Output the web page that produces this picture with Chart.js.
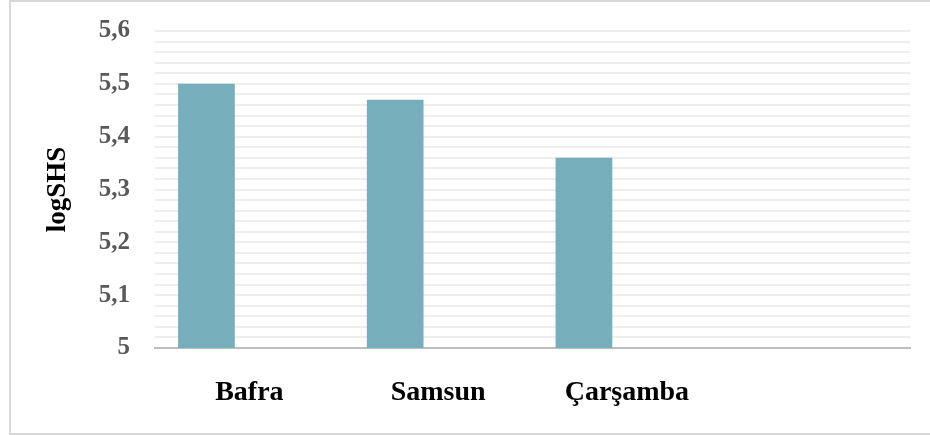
<!DOCTYPE html>
<html>
<head>
<meta charset="utf-8">
<script src="https://cdn.jsdelivr.net/npm/chart.js@4/dist/chart.umd.min.js"></script>
<style>
  html, body { margin: 0; padding: 0; background: #fff; overflow: hidden; }
  #frame {
    position: absolute; left: 9px; top: 0px; width: 940px; height: 431px;
    border: 2px solid #d9d9d9;
  }
  #wrap { position: absolute; left: 0; top: 0; width: 930px; height: 435px; }
</style>
</head>
<body>
<div id="frame"></div>
<div id="wrap"><canvas id="chart" width="930" height="435"></canvas></div>
<script>
// data
const districts = ['Bafra', 'Samsun', 'Çarşamba', '']
const logSHS = [5.50, 5.47, 5.36, null]
const emptySeries = [null, null, null, null]
const yTickLabels = { '5': '5', '5.1': '5,1', '5.2': '5,2', '5.3': '5,3', '5.4': '5,4', '5.5': '5,5', '5.6': '5,6' }

const serif = "'Liberation Serif', 'Times New Roman', serif"

const ctx = document.getElementById('chart').getContext('2d')
new Chart(ctx, {
  type: 'bar',
  data: {
    labels: districts,
    datasets: [
      { label: 'logSHS', data: logSHS, backgroundColor: '#76aebb', borderWidth: 0 },
      { label: '', data: emptySeries, backgroundColor: 'transparent' }
    ]
  },
  options: {
    responsive: false,
    animation: false,
    categoryPercentage: 0.91,
    barPercentage: 0.66,
    layout: { padding: { left: 10, right: 20, top: 31, bottom: 0 } },
    plugins: {
      legend: { display: false },
      tooltip: { enabled: false }
    },
    scales: {
      x: {
        grid: { display: false },
        border: { display: true, color: '#bfbfbf', width: 2 },
        ticks: {
          color: '#000',
          padding: 20,
          maxRotation: 0,
          font: { family: serif, size: 28, weight: 'bold' }
        },
        afterFit: (scale) => { scale.height = 87 }
      },
      y: {
        min: 5,
        max: 5.6,
        border: { display: false },
        // tick marks kept invisible, they only push the labels away from the plot
        grid: { color: '#eeeeee', lineWidth: 2, drawTicks: true, tickLength: 25, tickColor: 'rgba(0,0,0,0)' },
        ticks: {
          stepSize: 0.02,
          autoSkip: false,
          padding: 0,
          color: '#595959',
          font: { family: serif, size: 25, weight: 'bold' },
          callback: (v) => yTickLabels[(Math.round(v * 100) / 100).toString()] || ''
        },
        title: {
          display: true,
          text: 'logSHS',
          color: '#000',
          padding: { top: 32, bottom: 0 },
          font: { family: serif, size: 27, weight: 'bold' }
        },
        afterFit: (scale) => { scale.width = 145 }
      }
    }
  }
})
</script>
</body>
</html>
